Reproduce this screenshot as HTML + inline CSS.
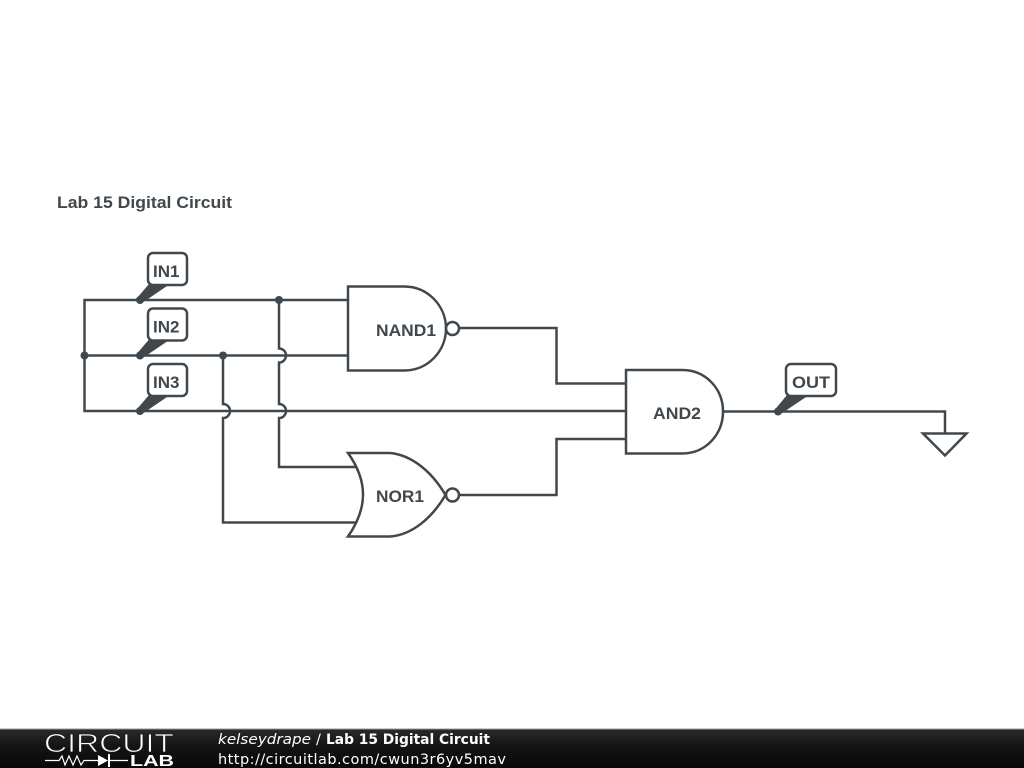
<!DOCTYPE html>
<html>
<head>
<meta charset="utf-8">
<style>
html,body{margin:0;padding:0;background:#fff;width:1024px;height:768px;overflow:hidden}
svg{display:block}
.t{font-family:"Liberation Sans",sans-serif;font-weight:bold;font-size:17px;fill:#40484d}
.w{fill:none;stroke:#40484d;stroke-width:2.5}
.d{fill:#40484d;stroke:none}
.f{font-family:"DejaVu Sans",sans-serif;font-size:14.5px;fill:#fff}
</style>
</head>
<body>
<svg width="1024" height="768" viewBox="0 0 1024 768" xmlns="http://www.w3.org/2000/svg">
<defs>
<linearGradient id="g" x1="0" y1="0" x2="0" y2="1">
<stop offset="0" stop-color="#2a2a2a"/>
<stop offset="0.45" stop-color="#141414"/>
<stop offset="1" stop-color="#080808"/>
</linearGradient>
</defs>
<rect width="1024" height="768" fill="#fff"/>
<text class="t" x="57" y="208" textLength="175" lengthAdjust="spacingAndGlyphs">Lab 15 Digital Circuit</text>

<!-- wires -->
<path class="w" d="M348 300H84.5V411H626"/>
<path class="w" d="M84.5 355.5H348"/>
<path class="w" d="M279 300V348.5A7 7 0 0 1 279 362.5V404A7 7 0 0 1 279 418V467H356"/>
<path class="w" d="M223 355.5V404A7 7 0 0 1 223 418V522.5H360"/>
<path class="w" d="M459 328H556.5V383.5H626"/>
<path class="w" d="M459 495H556.5V439H626"/>
<path class="w" d="M723 411.5H945V433"/>
<path class="w" d="M923 433.5H966.5L945 455.5Z"/>

<!-- junctions -->
<circle class="d" cx="140" cy="300" r="4"/>
<circle class="d" cx="279" cy="300" r="4"/>
<circle class="d" cx="84.5" cy="355.5" r="4"/>
<circle class="d" cx="140" cy="355.5" r="4"/>
<circle class="d" cx="223" cy="355.5" r="4"/>
<circle class="d" cx="140" cy="411" r="4"/>
<circle class="d" cx="778" cy="411.5" r="4"/>

<!-- gates -->
<path class="w" d="M348 286.5H404C428 286.5 446 306 446 328.5C446 351 428 370.5 404 370.5H348Z" style="fill:#fff"/>
<circle class="w" cx="452.5" cy="328.5" r="6.5" style="fill:#fff"/>
<path class="w" d="M348 453C360 453 378 453 390 453C412 455 432 472 445.5 495C432 518 412 535 390 536.5C378 536.5 360 536.5 348 536.5C368 508 368 481 348 453Z" style="fill:#fff"/>
<circle class="w" cx="452.5" cy="495" r="6.5" style="fill:#fff"/>
<path class="w" d="M626 370H682C706 370 723 389 723 411.5C723 434 706 453.5 682 453.5H626Z" style="fill:#fff"/>
<text class="t" x="376" y="336" textLength="60" lengthAdjust="spacingAndGlyphs">NAND1</text>
<text class="t" x="376" y="502" textLength="48" lengthAdjust="spacingAndGlyphs">NOR1</text>
<text class="t" x="653" y="419" textLength="48" lengthAdjust="spacingAndGlyphs">AND2</text>

<!-- labels -->
<path class="d" d="M137 298L149 284H170L142 303Z"/>
<rect class="w" x="148" y="253" width="39" height="32" rx="5" style="fill:#fff"/>
<text class="t" x="153" y="277">IN1</text>
<path class="d" d="M137 353.5L149 339.5H170L142 358.5Z"/>
<rect class="w" x="148" y="308.5" width="39" height="32" rx="5" style="fill:#fff"/>
<text class="t" x="153" y="332.5">IN2</text>
<path class="d" d="M137 409L149 395H170L142 414Z"/>
<rect class="w" x="148" y="364" width="39" height="32" rx="5" style="fill:#fff"/>
<text class="t" x="153" y="388">IN3</text>
<path class="d" d="M775 409.5L787 395H809L780 414.5Z"/>
<rect class="w" x="786" y="364" width="50" height="32" rx="5" style="fill:#fff"/>
<text class="t" x="792" y="388" textLength="38" lengthAdjust="spacingAndGlyphs">OUT</text>

<!-- footer -->
<rect x="0" y="729" width="1024" height="39" fill="url(#g)"/>
<rect x="0" y="728.5" width="1024" height="1" fill="#999"/>
<text x="44" y="752" font-family="Liberation Sans, sans-serif" font-size="26" fill="#fff" stroke="#1c1c1c" stroke-width="0.8" textLength="130" lengthAdjust="spacingAndGlyphs">CIRCUIT</text>
<path d="M45 760.5H59L62 756L65 765L69 756L73 765L77 756L81 765L84 760.5H99M108 760.5H128" fill="none" stroke="#fff" stroke-width="1.2"/>
<path d="M98 755V766L108 760.5Z" fill="#fff"/>
<rect x="108" y="754" width="2" height="13" fill="#fff"/>
<text x="130" y="766" font-family="Liberation Sans, sans-serif" font-weight="bold" font-size="16" fill="#fff" textLength="44" lengthAdjust="spacingAndGlyphs">LAB</text>
<text class="f" x="218" y="744" font-style="italic" textLength="93" lengthAdjust="spacingAndGlyphs">kelseydrape</text>
<text class="f" x="316" y="744">/</text>
<text class="f" x="326" y="744" font-weight="bold" textLength="164" lengthAdjust="spacingAndGlyphs">Lab 15 Digital Circuit</text>
<text class="f" x="218" y="764" textLength="288" lengthAdjust="spacing">http://circuitlab.com/cwun3r6yv5mav</text>
</svg>
</body>
</html>
